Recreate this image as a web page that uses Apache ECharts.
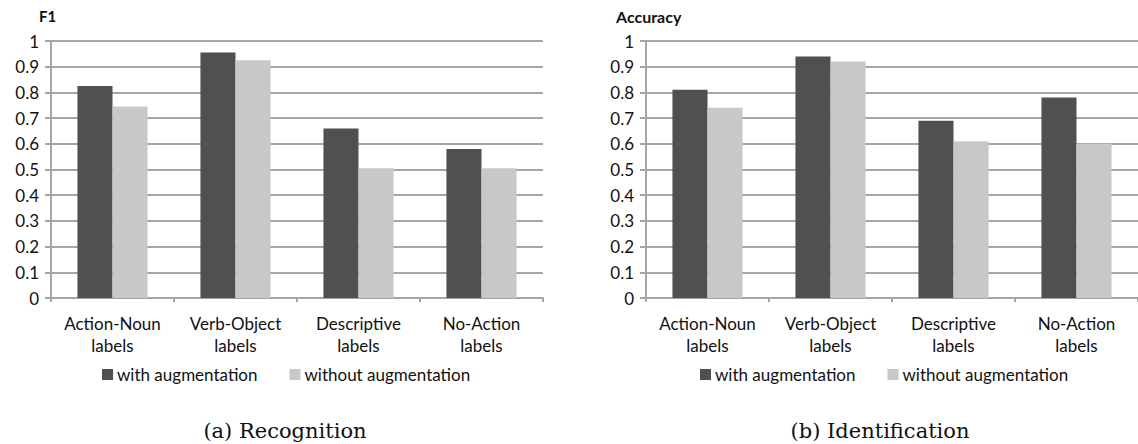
<!DOCTYPE html>
<html>
<head>
<meta charset="utf-8">
<script src="https://cdn.jsdelivr.net/npm/echarts@6/dist/echarts.min.js"></script>
<style>
html,body{margin:0;padding:0;background:#fff;}
#chart{width:1138px;height:444px;}
</style>
</head>
<body>
<div id="chart"></div>
<script>
const categories = ['Action-Noun\nlabels', 'Verb-Object\nlabels', 'Descriptive\nlabels', 'No-Action\nlabels'];
const seriesNames = ['with augmentation', 'without augmentation'];
const f1With = [0.825, 0.955, 0.66, 0.58];
const f1Without = [0.745, 0.925, 0.505, 0.505];
const accWith = [0.81, 0.94, 0.69, 0.78];
const accWithout = [0.74, 0.92, 0.61, 0.60];
const panelTitles = ['F1', 'Accuracy'];
const captions = ['(a) Recognition', '(b) Identification'];

const FONT = 'Lato';
const DARK = '#505050';
const LIGHT = '#c8c8c8';
const GRID = '#a5a5a5';
const TXT = '#111';

function yAxis(idx) {
  return {
    type: 'value', gridIndex: idx, min: 0, max: 1, interval: 0.1,
    axisLine: { show: true, lineStyle: { color: GRID, width: 2 } },
    axisTick: { show: true, length: 6, lineStyle: { color: GRID, width: 2 } },
    splitLine: { show: true, lineStyle: { color: GRID, width: 2 } },
    axisLabel: {
      margin: 12, fontFamily: FONT, fontSize: 17, color: TXT,
      formatter: v => String(+v.toFixed(1))
    }
  };
}
function xAxis(idx) {
  return {
    type: 'category', gridIndex: idx, data: categories,
    axisLine: { show: true, lineStyle: { color: GRID, width: 2 } },
    axisTick: { show: true, length: 4, alignWithLabel: false, lineStyle: { color: GRID, width: 2 } },
    axisLabel: { interval: 0, margin: 14, fontFamily: FONT, fontSize: 17, lineHeight: 22, color: TXT }
  };
}
function bar(name, data, idx, color) {
  return {
    name, type: 'bar', xAxisIndex: idx, yAxisIndex: idx, data,
    barGap: '0%', barCategoryGap: '43%',
    itemStyle: { color }, animation: false
  };
}
function legend(idx, left) {
  return {
    data: seriesNames.map(n => ({ name: n, icon: 'rect' })),
    left, top: 366, padding: 0, itemGap: 32, itemWidth: 11, itemHeight: 11,
    selectedMode: false,
    textStyle: { fontFamily: FONT, fontSize: 17, color: TXT, padding: [0, 0, 0, -1] }
  };
}

const chart = echarts.init(document.getElementById('chart'), null, { renderer: 'svg' });
chart.setOption({
  animation: false,
  backgroundColor: '#fff',
  grid: [
    { left: 51, top: 41, width: 492, height: 257 },
    { left: 646, top: 41, width: 492, height: 257 }
  ],
  xAxis: [xAxis(0), xAxis(1)],
  yAxis: [yAxis(0), yAxis(1)],
  legend: [legend(0, 102), legend(1, 700)],
  title: [
    { text: panelTitles[0], left: 39, top: 8, padding: 0, textStyle: { fontFamily: FONT, fontSize: 15, fontWeight: 'bold', color: TXT } },
    { text: panelTitles[1], left: 616, top: 8, padding: 0, textStyle: { fontFamily: FONT, fontSize: 16, fontWeight: 'bold', color: TXT } },
    { text: captions[0], left: 285, top: 420, padding: 0, textAlign: 'center', textStyle: { fontFamily: 'DejaVu Serif', fontSize: 21, fontWeight: 'normal', color: TXT } },
    { text: captions[1], left: 880, top: 420, padding: 0, textAlign: 'center', textStyle: { fontFamily: 'DejaVu Serif', fontSize: 21, fontWeight: 'normal', color: TXT } }
  ],
  series: [
    bar(seriesNames[0], f1With, 0, DARK),
    bar(seriesNames[1], f1Without, 0, LIGHT),
    bar(seriesNames[0], accWith, 1, DARK),
    bar(seriesNames[1], accWithout, 1, LIGHT)
  ]
});
</script>
</body>
</html>
